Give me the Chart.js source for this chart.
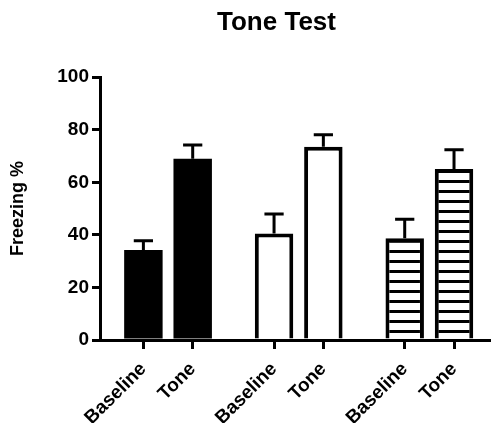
<!DOCTYPE html>
<html>
<head>
<meta charset="utf-8">
<script src="https://cdn.jsdelivr.net/npm/chart.js@4"></script>
<style>
  body { margin: 0; background: #fff; }
  #wrap { width: 491px; height: 423px; }
</style>
</head>
<body>
<div id="wrap"><canvas id="myChart"></canvas></div>
<script>
// values
const categories = ['Baseline', 'Tone', 'Baseline', 'Tone', 'Baseline', 'Tone'];
const freezing = [34.2, 69.0, 40.5, 73.5, 38.7, 65.1];
const sem = [3.6, 5.2, 7.4, 4.6, 7.2, 7.3];
const yTicks = [0, 20, 40, 60, 80, 100];

// bars sit in pairs with a wider gap between pairs
const xpos = categories.map((c, i) => i + Math.floor(i / 2) * 0.65);

// horizontal stripes for the third pair
const pc = document.createElement('canvas');
pc.width = 10; pc.height = 10;
const pctx = pc.getContext('2d');
pctx.fillStyle = '#fff';
pctx.fillRect(0, 0, 10, 10);
pctx.fillStyle = '#000';
pctx.fillRect(0, 0, 10, 3);
const ctx = document.getElementById('myChart').getContext('2d');
const stripes = ctx.createPattern(pc, 'repeat');

const fills = categories.map((c, i) => {
  const g = Math.floor(i / 2);
  if (g == 0) return '#000';
  if (g == 1) return '#fff';
  return stripes;
});
// solid black bars need no separate outline
const borders = categories.map((c, i) => Math.floor(i / 2) == 0 ? 0 : 4);

const errorBars = {
  id: 'errorBars',
  afterDatasetsDraw(chart) {
    const c = chart.ctx;
    const y = chart.scales.y;
    const meta = chart.getDatasetMeta(0);
    c.save();
    c.strokeStyle = '#000';
    c.lineWidth = 3;
    meta.data.forEach((bar, i) => {
      const top = y.getPixelForValue(freezing[i] + sem[i]);
      const half = bar.width / 4;
      c.beginPath();
      c.moveTo(bar.x, bar.y);
      c.lineTo(bar.x, top);
      c.moveTo(bar.x - half, top);
      c.lineTo(bar.x + half, top);
      c.stroke();
    });
    c.restore();
  }
};

// nudge the title so it sits where the original one does
const titleShift = {
  id: 'titleShift',
  afterLayout(chart) {
    if (chart.titleBlock) chart.titleBlock.left = 62;
  }
};

Chart.defaults.font.family = '"Liberation Sans", Arial, sans-serif';
Chart.defaults.font.weight = 'bold';
Chart.defaults.color = '#000';

var myChart = new Chart(ctx, {
  type: 'bar',
  data: {
    datasets: [{
      label: 'Freezing %',
      data: freezing.map((v, i) => ({ x: xpos[i], y: v })),
      backgroundColor: fills,
      borderColor: '#000',
      borderWidth: borders,
      borderSkipped: 'start',
      categoryPercentage: 1,
      barPercentage: 0.78
    }]
  },
  plugins: [errorBars, titleShift],
  options: {
    responsive: true,
    maintainAspectRatio: false,
    animation: false,
    layout: { padding: 0 },
    plugins: {
      legend: { display: false },
      tooltip: { enabled: false },
      title: {
        display: true,
        text: 'Tone Test',
        font: { size: 26, weight: 'bold' },
        padding: { top: 7, bottom: 39 }
      }
    },
    scales: {
      x: {
        type: 'linear',
        offset: false,
        min: -0.88,
        max: 7.05,
        afterBuildTicks: s => { s.ticks = xpos.map(v => ({ value: v })); },
        afterFit: s => { s.height = 83; },
        grid: { display: true, offset: false, drawOnChartArea: false, tickLength: 9, lineWidth: 3, color: '#000' },
        border: { display: true, width: 3, color: '#000' },
        ticks: {
          autoSkip: false,
          maxRotation: 45,
          minRotation: 45,
          padding: 9,
          font: { size: 19, weight: 'bold' },
          callback: (v, i) => categories[i]
        }
      },
      y: {
        min: 0,
        max: 100,
        afterBuildTicks: s => { s.ticks = yTicks.map(v => ({ value: v })); },
        afterFit: s => { s.width = 100; },
        grid: { display: true, drawOnChartArea: false, tickLength: 8, lineWidth: 3, color: '#000' },
        border: { display: true, width: 3, color: '#000' },
        ticks: { padding: 3, font: { size: 19, weight: 'bold' } },
        title: {
          display: true,
          text: 'Freezing %',
          font: { size: 18, weight: 'bold' },
          padding: { top: 7, bottom: 0 }
        }
      }
    }
  }
});
</script>
</body>
</html>
